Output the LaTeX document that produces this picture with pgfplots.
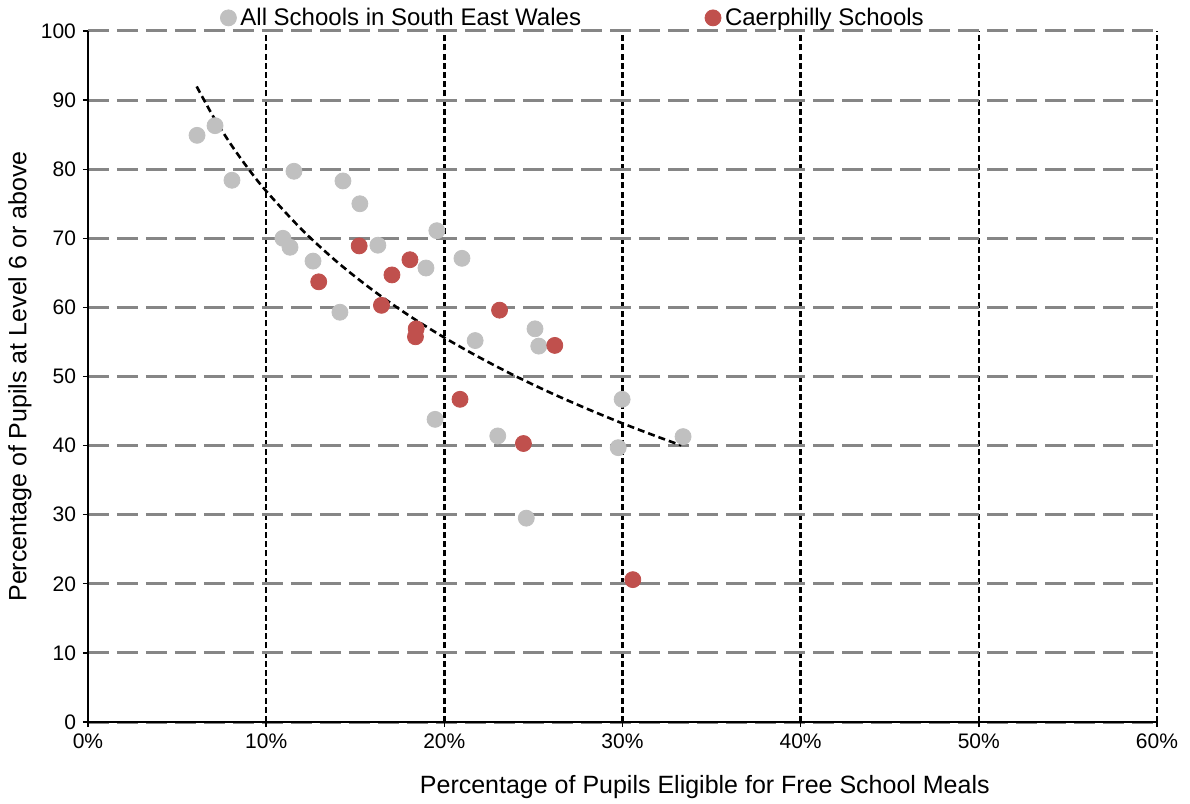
\documentclass[border=0pt]{standalone}
\usepackage{pgfplots}
\pgfplotsset{compat=1.18}
\usepackage{fontspec}
\setmainfont{Liberation Sans}
\definecolor{ptgray}{HTML}{C0C0C0}
\definecolor{ptred}{HTML}{C0504D}
\definecolor{gridgray}{HTML}{868686}
\begin{document}
\begin{tikzpicture}
\useasboundingbox (-44pt,-41pt) rectangle (551pt,361pt);
\begin{axis}[
  scale only axis,
  width=534.5pt, height=345.5pt,
  xmin=0, xmax=60, ymin=0, ymax=100,
  xtick={0,10,20,30,40,50,60},
  xticklabels={0\%,10\%,20\%,30\%,40\%,50\%,60\%},
  ytick={0,10,...,100},
  /pgf/number format/assume math mode=true,
  ticklabel style={font=\fontsize{10.5}{12}\selectfont},
  axis x line*=bottom, axis y line*=left,
  x axis line style={line width=1.3pt, -},
  y axis line style={line width=0.7pt, -},
  tick align=outside,
  major tick length=2.5pt,
  x tick style={line width=0.8pt, black},
  y tick style={line width=0.6pt, black},
  xmajorgrids, ymajorgrids,
  x grid style={black, line width=1.3pt, dash pattern=on 3pt off 1.6pt},
  y grid style={gridgray, line width=1.5pt, dash pattern=on 10.5pt off 4pt},
  xlabel={Percentage of Pupils Eligible for Free School Meals},
  ylabel={Percentage of Pupils at Level 6 or above},
  label style={font=\fontsize{12.5}{14}\selectfont},
  xlabel style={at={(axis description cs:0.577,-0.094)}, anchor=center},
  ylabel style={at={(axis description cs:-0.0636,0.5)}, anchor=center, rotate=0},
  legend columns=2,
  legend style={at={(axis description cs:0.1235,1.019)}, anchor=west, draw=none, fill=none,
    font=\fontsize{12}{14}\selectfont, inner sep=0pt,
    /tikz/every even column/.append style={column sep=60pt},
    nodes={inner xsep=2pt}},
  legend image code/.code={\draw[#1] plot coordinates {(0pt,0pt)};},
  clip=false,
]
\addplot[only marks, mark=*, mark size=4pt, color=ptgray, mark options={draw=ptgray, fill=ptgray}] coordinates {
(6.12,84.9) (7.13,86.3) (8.08,78.4) (11.56,79.7) (14.31,78.3) (15.26,75.0)
(10.94,70.0) (11.34,68.7) (12.63,66.7) (14.14,59.3) (16.27,69.0) (19.58,71.1)
(18.97,65.7) (20.99,67.1) (21.73,55.2) (25.09,56.9) (25.3,54.4) (19.48,43.8)
(23.0,41.4) (24.6,29.5) (29.98,46.7) (29.76,39.7) (33.4,41.3)
};
\addlegendentry{All Schools in South East Wales}
\addplot[only marks, mark=*, mark size=4pt, color=ptred, mark options={draw=ptred, fill=ptred}] coordinates {
(12.95,63.7) (15.22,68.9) (17.06,64.7) (18.07,66.9) (16.47,60.3) (18.42,56.9)
(18.38,55.75) (23.1,59.6) (26.2,54.5) (20.88,46.7) (24.44,40.3) (30.58,20.6)
};
\addlegendentry{Caerphilly Schools}
\addplot[forget plot, black, line width=1.3pt, dash pattern=on 3.5pt off 2pt, smooth] coordinates {
(6.1,91.97) (7,87.76) (8,83.67) (9,80.06) (10,76.84) (12,71.26) (14,66.54)
(16,62.46) (18,58.85) (20,55.63) (22,52.72) (24,50.05) (26,47.60) (28,45.34)
(30,43.22) (32,41.25) (33.3,40.03)
};
\end{axis}
\end{tikzpicture}
\end{document}
